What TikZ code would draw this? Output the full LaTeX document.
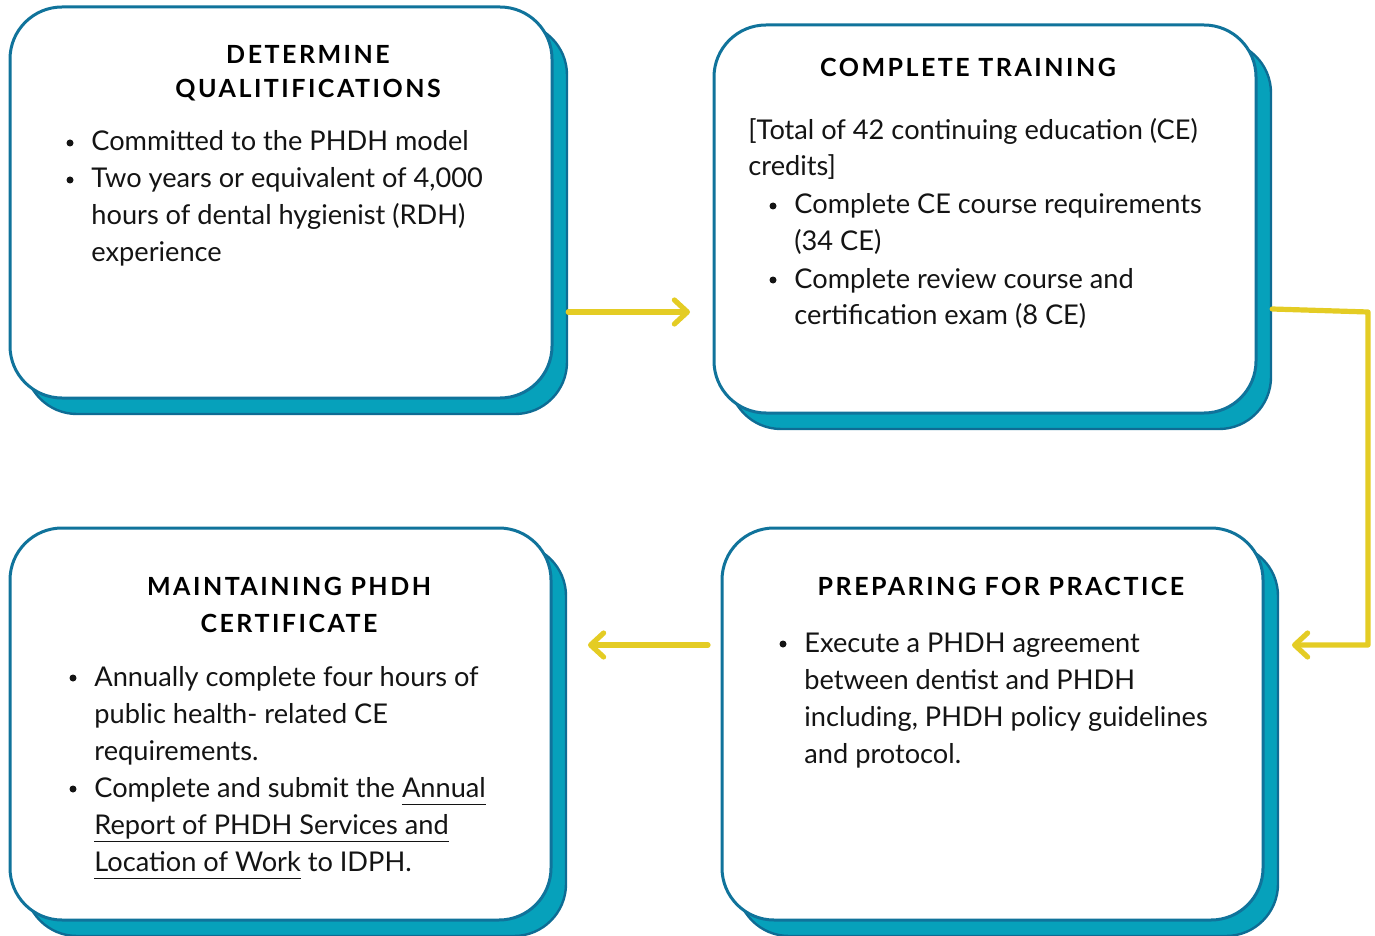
\documentclass[tikz,border=0pt]{standalone}
\usepackage{fontspec}
\setmainfont{Lato}
\newfontfamily\headfont{Lato}[LetterSpace=10]
\usetikzlibrary{arrows.meta,calc}
\newcommand{\linkul}[1]{\underline{\smash{#1}\rule[-2.2pt]{0pt}{1pt}}}
\definecolor{boxedge}{RGB}{16,115,155}
\definecolor{shadowfill}{RGB}{6,161,187}
\definecolor{shadowedge}{RGB}{14,108,148}
\definecolor{arrowyellow}{RGB}{228,204,36}
\definecolor{textcol}{RGB}{20,20,20}
\begin{document}
\begin{tikzpicture}[x=0.5pt,y=-0.5pt,
  shadowbox/.style={draw=shadowedge,line width=1.2pt,fill=shadowfill,rounded corners=26pt,inner sep=0pt},
  frontbox/.style={draw=boxedge,line width=1.5pt,fill=white,rounded corners=26pt,inner sep=0pt},
  bodyline/.style={anchor=base west,inner sep=0pt,text=textcol,font=\fontsize{13.6}{17}\selectfont},
  bulletdot/.style={circle,fill=textcol,inner sep=0pt,minimum size=3.5pt},
  headline/.style={anchor=base,inner sep=0pt,text=black,font=\headfont\bfseries\fontsize{12.5}{16}\selectfont},
  flowarrow/.style={draw=arrowyellow,line width=2.6pt,line cap=round,line join=round,-{Straight Barb[length=6.5pt,width=12pt,round]}}]
\useasboundingbox (0,0) rectangle (1375,936);

% ---- boxes: shadows then fronts
\node[shadowbox,minimum width=271pt,minimum height=195.5pt] (b1s) at (296,218.5) {};
\node[frontbox,minimum width=271pt,minimum height=195.5pt] (b1) at (281,202.5) {};
\node[shadowbox,minimum width=271pt,minimum height=194pt] (b2s) at (1000,235) {};
\node[frontbox,minimum width=271pt,minimum height=194pt] (b2) at (985,219) {};
\node[shadowbox,minimum width=270.5pt,minimum height=196pt] (b3s) at (295.5,740) {};
\node[frontbox,minimum width=270.5pt,minimum height=196pt] (b3) at (280.5,724) {};
\node[shadowbox,minimum width=270.5pt,minimum height=196pt] (b4s) at (1007.5,740) {};
\node[frontbox,minimum width=270.5pt,minimum height=196pt] (b4) at (992.5,724) {};

% ---- box 1
\node[headline] (h1a) at (308,64) {DETERMINE};
\node[headline] (h1b) at (308,98) {QUALITIFICATIONS};
\node[bulletdot] (d1a) at (70,143) {};
\node[bodyline] (t1a) at (91,151) {Committed to the PHDH model};
\node[bulletdot] (d1b) at (70,180) {};
\node[bodyline] (t1b) at (91,188) {Two years or equivalent of 4,000};
\node[bodyline] (t1c) at (91,225) {hours of dental hygienist (RDH)};
\node[bodyline] (t1d) at (91,262) {experience};

% ---- box 2
\node[headline] (h2a) at (968,77) {COMPLETE TRAINING};
\node[bodyline] (t2a) at (748,140) {[Total of 42 continuing education (CE)};
\node[bodyline] (t2b) at (748,176) {credits]};
\node[bulletdot] (d2a) at (773,206) {};
\node[bodyline] (t2c) at (794,214) {Complete CE course requirements};
\node[bodyline] (t2d) at (794,250) {(34 CE)};
\node[bulletdot] (d2b) at (773,280) {};
\node[bodyline] (t2e) at (794,288) {Complete review course and};
\node[bodyline] (t2f) at (794,324) {certification exam (8 CE)};

% ---- box 3
\node[headline] (h3a) at (289,595) {MAINTAINING PHDH};
\node[headline] (h3b) at (289,632) {CERTIFICATE};
\node[bulletdot] (d3a) at (73,678) {};
\node[bodyline] (t3a) at (94,686) {Annually complete four hours of};
\node[bodyline] (t3b) at (94,723) {public health- related CE};
\node[bodyline] (t3c) at (94,760) {requirements.};
\node[bulletdot] (d3b) at (73,789) {};
\node[bodyline] (t3d) at (94,797) {Complete and submit the \linkul{Annual}};
\node[bodyline] (t3e) at (94,834) {\linkul{Report of PHDH Services and}};
\node[bodyline] (t3f) at (94,871) {\linkul{Location of Work} to IDPH.};

% ---- box 4
\node[headline] (h4a) at (1001,595) {PREPARING FOR PRACTICE};
\node[bulletdot] (d4a) at (783,644) {};
\node[bodyline] (t4a) at (804,652) {Execute a PHDH agreement};
\node[bodyline] (t4b) at (804,689) {between dentist and PHDH};
\node[bodyline] (t4c) at (804,726) {including, PHDH policy guidelines};
\node[bodyline] (t4d) at (804,763) {and protocol.};

% ---- connectors
\coordinate (a1e) at (690,312);
\coordinate (a2s) at (1273,309);
\coordinate (a2c) at (1368,312);
\coordinate (a2e) at (1292,645);
\coordinate (a3s) at (708,645);
\coordinate (a3e) at (588,645);
\draw[flowarrow] (b1s.east |- a1e) -- (a1e);
\draw[flowarrow] (b2s.east |- a2s) -- (a2c) |- (a2e);
\draw[flowarrow] (a3s) -- (a3e);
\end{tikzpicture}
\end{document}
